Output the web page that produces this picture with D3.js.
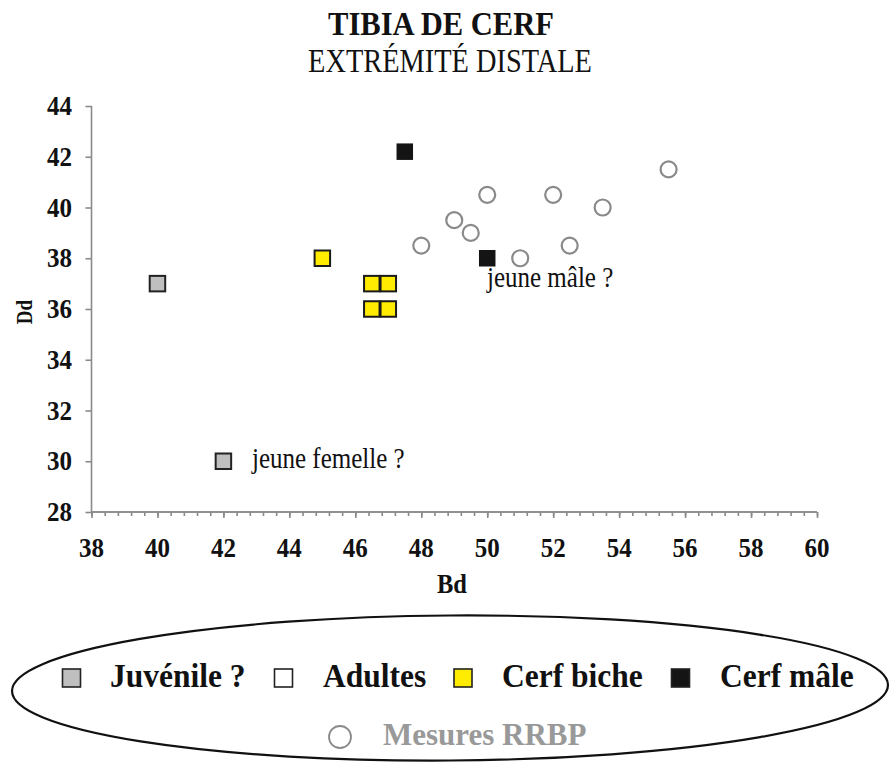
<!DOCTYPE html>
<html>
<head>
<meta charset="utf-8">
<script src="https://cdn.jsdelivr.net/npm/d3@7"></script>
<style>
  html, body { margin: 0; padding: 0; background: #fff; }
  svg { display: block; }
  text { font-family: "Liberation Serif", "Times New Roman", serif; }
</style>
</head>
<body>
<svg id="chart" width="890" height="764"></svg>
<script>
// Tibia de cerf, extrémité distale : Bd (largeur) vs Dd (épaisseur), en mm
const juvenile   = [{bd: 40, dd: 37}, {bd: 42, dd: 30}];
const cerfBiche  = [{bd: 45, dd: 38}, {bd: 46.5, dd: 37}, {bd: 47, dd: 37}, {bd: 46.5, dd: 36}, {bd: 47, dd: 36}];
const cerfMale   = [{bd: 47.5, dd: 42.2}, {bd: 50, dd: 38}];
const mesuresRRBP = [
  {bd: 48, dd: 38.5}, {bd: 49, dd: 39.5}, {bd: 49.5, dd: 39}, {bd: 50, dd: 40.5},
  {bd: 51, dd: 38}, {bd: 52, dd: 40.5}, {bd: 52.5, dd: 38.5}, {bd: 53.5, dd: 40}, {bd: 55.5, dd: 41.5}
];
const annotations = [
  {bd: 42, dd: 30, text: "jeune femelle ?"},
  {bd: 50, dd: 38, text: "jeune mâle ?"}
];
const xTicks = [38, 40, 42, 44, 46, 48, 50, 52, 54, 56, 58, 60];
const yTicks = [28, 30, 32, 34, 36, 38, 40, 42, 44];
const legendRow = [
  {label: "Juvénile ?", fill: "#bfbfbf"},
  {label: "Adultes", fill: "#ffffff"},
  {label: "Cerf biche", fill: "#ffec00"},
  {label: "Cerf mâle", fill: "#141414"}
];

const svg = d3.select("#chart");
const x = d3.scaleLinear().domain([38, 60]).range([91.5, 817]);
const y = d3.scaleLinear().domain([28, 44]).range([512, 106]);
const axisColor = "#8a8a8a";

// Text with a slight vertical stretch, as in the original typesetting
function label(g, tx, ty, str, opts) {
  const o = Object.assign({size: 25, weight: "normal", anchor: "start", k: 1.1, fill: "#111", rotate: 0}, opts);
  return g.append("text")
    .attr("transform", `translate(${tx},${ty}) rotate(${o.rotate}) scale(1,${o.k})`)
    .attr("text-anchor", o.anchor)
    .attr("font-size", o.size)
    .attr("font-weight", o.weight)
    .attr("fill", o.fill)
    .text(str);
}

// Title
label(svg, 441, 35, "TIBIA DE CERF", {size: 30.6, weight: "bold", anchor: "middle", k: 1.07});
label(svg, 450, 72, "EXTRÉMITÉ DISTALE", {size: 28.4, anchor: "middle", k: 1.17});

// X axis with minor ticks every 0.4
const xAxisG = svg.append("g").attr("transform", `translate(0,${y(28)})`);
xAxisG.call(d3.axisBottom(x).tickValues(d3.range(38, 60.001, 0.4)).tickSize(4).tickFormat(""));
xAxisG.append("g").call(d3.axisBottom(x).tickValues(xTicks).tickSize(6).tickFormat(""));
xAxisG.selectAll("path, line").attr("stroke", axisColor).attr("stroke-width", 1.6);
xAxisG.selectAll(".domain").attr("d", `M${x(38)},0H${x(60)}`);
xTicks.forEach(t => label(svg, x(t), 557, String(t), {size: 25, weight: "bold", anchor: "middle", k: 1.05}));

// Y axis
const yAxisG = svg.append("g").attr("transform", `translate(${x(38)},0)`);
yAxisG.call(d3.axisLeft(y).tickValues(yTicks).tickSize(6).tickFormat(""));
yAxisG.selectAll("path, line").attr("stroke", axisColor).attr("stroke-width", 1.6);
yAxisG.selectAll(".domain").attr("d", `M0,${y(44)}V${y(28)}`);
yTicks.forEach(t => label(svg, 72, y(t) + 9, String(t), {size: 25, weight: "bold", anchor: "end", k: 1.05}));

// Axis titles
label(svg, 452, 593, "Bd", {size: 24.5, weight: "bold", anchor: "middle", k: 1.1});
label(svg, 32, 312, "Dd", {size: 19, weight: "bold", anchor: "middle", k: 1.2, rotate: -90});

// Points
const plot = svg.append("g");
plot.selectAll("circle.rrbp").data(mesuresRRBP).join("circle")
  .attr("class", "rrbp")
  .attr("cx", d => x(d.bd)).attr("cy", d => y(d.dd)).attr("r", 8)
  .attr("fill", "none").attr("stroke", "#8a8a8a").attr("stroke-width", 2.2);

function squares(data, fill, stroke, size) {
  plot.selectAll(null).data(data).join("rect")
    .attr("x", d => x(d.bd) - size / 2).attr("y", d => y(d.dd) - size / 2)
    .attr("width", size).attr("height", size)
    .attr("fill", fill)
    .attr("stroke", stroke).attr("stroke-width", stroke === "none" ? 0 : 2);
}
squares(juvenile, "#bfbfbf", "#222", 15.5);
squares(cerfBiche, "#ffec00", "#1a1a1a", 15.5);
squares(cerfMale, "#141414", "none", 16.5);

// Annotations
label(svg, 252, y(30) + 7, annotations[0].text, {size: 25, k: 1.22});
label(svg, 487, y(38) + 29, annotations[1].text, {size: 25, k: 1.22});

// Legend inside an ellipse
const leg = svg.append("g");
leg.append("ellipse")
  .attr("cx", 450).attr("cy", 688).attr("rx", 438).attr("ry", 72.5)
  .attr("transform", "rotate(-0.4 450 688)")
  .attr("fill", "none").attr("stroke", "#111").attr("stroke-width", 2.2);

const swatchX = [71.5, 283.5, 463, 680.5];
const textX = [110, 323, 502, 720];
legendRow.forEach((d, i) => {
  leg.append("rect")
    .attr("x", swatchX[i] - 9).attr("y", 669).attr("width", 18).attr("height", 18)
    .attr("fill", d.fill).attr("stroke", "#222").attr("stroke-width", 1.6);
  label(leg, textX[i], 687, d.label, {size: 31.5, weight: "bold", k: 1.05});
});
leg.append("circle").attr("cx", 340).attr("cy", 737).attr("r", 11)
  .attr("fill", "none").attr("stroke", "#8a8a8a").attr("stroke-width", 1.8);
label(leg, 383, 745, "Mesures RRBP", {size: 31, weight: "bold", k: 1.05, fill: "#999"});
</script>
</body>
</html>
